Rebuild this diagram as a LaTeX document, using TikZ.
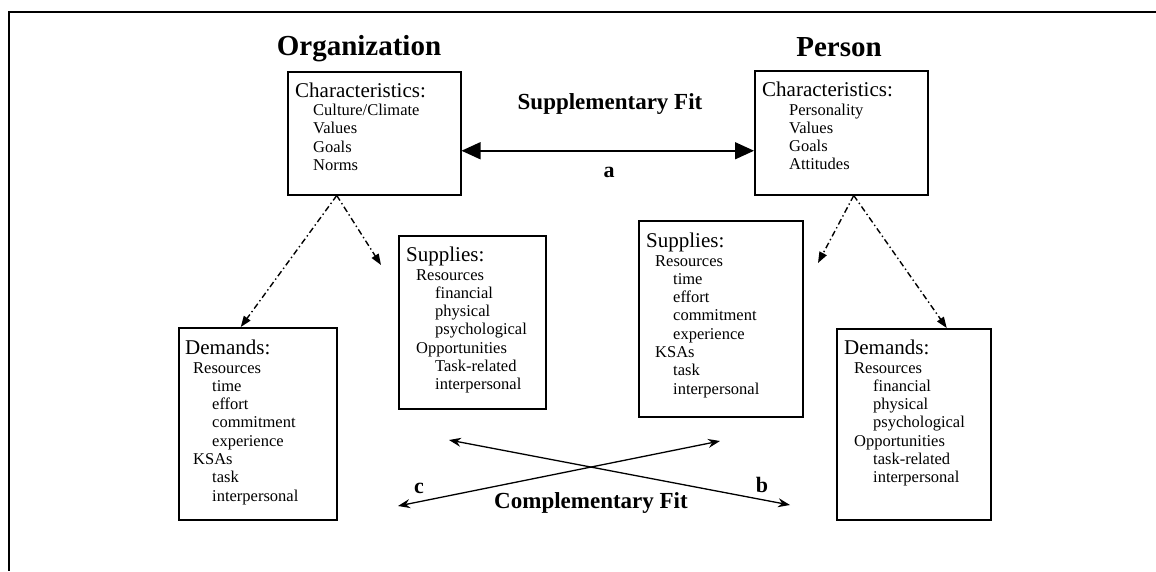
\documentclass[tikz,border=0pt]{standalone}
\usepackage{fontspec}
\setmainfont{Liberation Serif}
\usetikzlibrary{arrows.meta,positioning}

\newcommand{\boxhead}[1]{{\fontsize{21}{21}\selectfont #1}}

\tikzset{
  panel/.style={draw, line width=1.5pt, anchor=north west, inner sep=0pt},
  listing/.style={anchor=north west, inner sep=0pt, align=left,
    font=\fontsize{16.5}{18.3}\selectfont},
  heading/.style={font=\bfseries\fontsize{29}{29}\selectfont, anchor=base, inner sep=0pt},
  fitlabel/.style={font=\bfseries\fontsize{23}{23}\selectfont, anchor=base, inner sep=0pt},
  letter/.style={font=\bfseries\fontsize{22}{22}\selectfont, anchor=base, inner sep=0pt},
  spawn/.style={-{Triangle[length=11pt,width=8pt]}, line width=1.4pt,
    dash pattern=on 6pt off 3pt on 1.4pt off 3pt},
  supfit/.style={{Triangle[length=19pt,width=17pt]}-{Triangle[length=19pt,width=17pt]}, line width=1.5pt},
  compfit/.style={{Stealth[length=12pt,width=9pt,inset=4pt]}-{Stealth[length=12pt,width=9pt,inset=4pt]}, line width=1.3pt}
}

\begin{document}
\begin{tikzpicture}[x=1pt,y=-1pt]
    \useasboundingbox (0,0) rectangle (1156,571);
    % frame
    \draw[line width=2pt] (1156,12) -- (9,12) -- (9,571);

    % titles
    \node[heading] (orgtitle) at (359,55) {Organization};
    \node[heading] (pertitle) at (839,56) {Person};

    % characteristics
    \node[panel, minimum width=173pt, minimum height=123pt] (orgchar) at (287,71) {};
    \node[listing] (orgchartxt) at ([shift={(8pt,-11.5pt)}]orgchar.north west)
        {\boxhead{Characteristics:}\\
         \hspace*{18pt}Culture/Climate\\
         \hspace*{18pt}Values\\
         \hspace*{18pt}Goals\\
         \hspace*{18pt}Norms};
    \node[panel, minimum width=173pt, minimum height=124pt] (perchar) at (754,70) {};
    \node[listing] (perchartxt) at ([shift={(8pt,-12pt)}]perchar.north west)
        {\boxhead{Characteristics:}\\
         \hspace*{27pt}Personality\\
         \hspace*{27pt}Values\\
         \hspace*{27pt}Goals\\
         \hspace*{27pt}Attitudes};

    % supplies
    \node[panel, minimum width=147pt, minimum height=173pt] (orgsup) at (398,235) {};
    \node[listing] (orgsuptxt) at ([shift={(8pt,-12pt)}]orgsup.north west)
        {\boxhead{Supplies:}\\
         \hspace*{10pt}Resources\\
         \hspace*{29pt}financial\\
         \hspace*{29pt}physical\\
         \hspace*{29pt}psychological\\
         \hspace*{10pt}Opportunities\\
         \hspace*{29pt}Task-related\\
         \hspace*{29pt}interpersonal};
    \node[panel, minimum width=164pt, minimum height=196pt] (persup) at (638,220) {};
    \node[listing] (persuptxt) at ([shift={(8pt,-13pt)}]persup.north west)
        {\boxhead{Supplies:}\\
         \hspace*{9pt}Resources\\
         \hspace*{27pt}time\\
         \hspace*{27pt}effort\\
         \hspace*{27pt}commitment\\
         \hspace*{27pt}experience\\
         \hspace*{9pt}KSAs\\
         \hspace*{27pt}task\\
         \hspace*{27pt}interpersonal};

    % demands
    \node[panel, minimum width=158pt, minimum height=192pt] (orgdem) at (178,327) {};
    \node[listing] (orgdemtxt) at ([shift={(7pt,-13pt)}]orgdem.north west)
        {\boxhead{Demands:}\\
         \hspace*{8pt}Resources\\
         \hspace*{27pt}time\\
         \hspace*{27pt}effort\\
         \hspace*{27pt}commitment\\
         \hspace*{27pt}experience\\
         \hspace*{8pt}KSAs\\
         \hspace*{27pt}task\\
         \hspace*{27pt}interpersonal};
    \node[panel, minimum width=154pt, minimum height=191pt] (perdem) at (836,328) {};
    \node[listing] (perdemtxt) at ([shift={(8pt,-12pt)}]perdem.north west)
        {\boxhead{Demands:}\\
         \hspace*{10pt}Resources\\
         \hspace*{29pt}financial\\
         \hspace*{29pt}physical\\
         \hspace*{29pt}psychological\\
         \hspace*{10pt}Opportunities\\
         \hspace*{29pt}task-related\\
         \hspace*{29pt}interpersonal};

    % supplementary fit
    \node[fitlabel] (suplabel) at (610,109) {Supplementary Fit};
    \node[letter] (alabel) at (609,177) {a};
    \draw[supfit] ([yshift=-17.5pt]orgchar.east) -- ([yshift=-17.5pt]orgchar.east -| perchar.west);

    % dash-dot links
    \coordinate (orgsuptip) at (381,265);
    \coordinate (persuptip) at (818,263);
    \draw[spawn] ([xshift=-37.5pt]orgchar.south) -- ([xshift=-17pt]orgdem.north);
    \draw[spawn] ([xshift=-37.5pt]orgchar.south) -- (orgsuptip);
    \draw[spawn] ([xshift=12.5pt]perchar.south) -- (persuptip);
    \draw[spawn] ([xshift=12.5pt]perchar.south) -- ([xshift=33pt]perdem.north);

    % complementary fit
    \coordinate (bstart) at (449,440);
    \coordinate (bend) at (790,505);
    \coordinate (cstart) at (720,441);
    \coordinate (cend) at (398,506);
    \draw[compfit] (bstart) -- (bend);
    \draw[compfit] (cstart) -- (cend);
    \node[letter] (clabel) at (419,493) {c};
    \node[letter] (blabel) at (762,492) {b};
    \node[fitlabel] (complabel) at (591,508) {Complementary Fit};
\end{tikzpicture}
\end{document}
